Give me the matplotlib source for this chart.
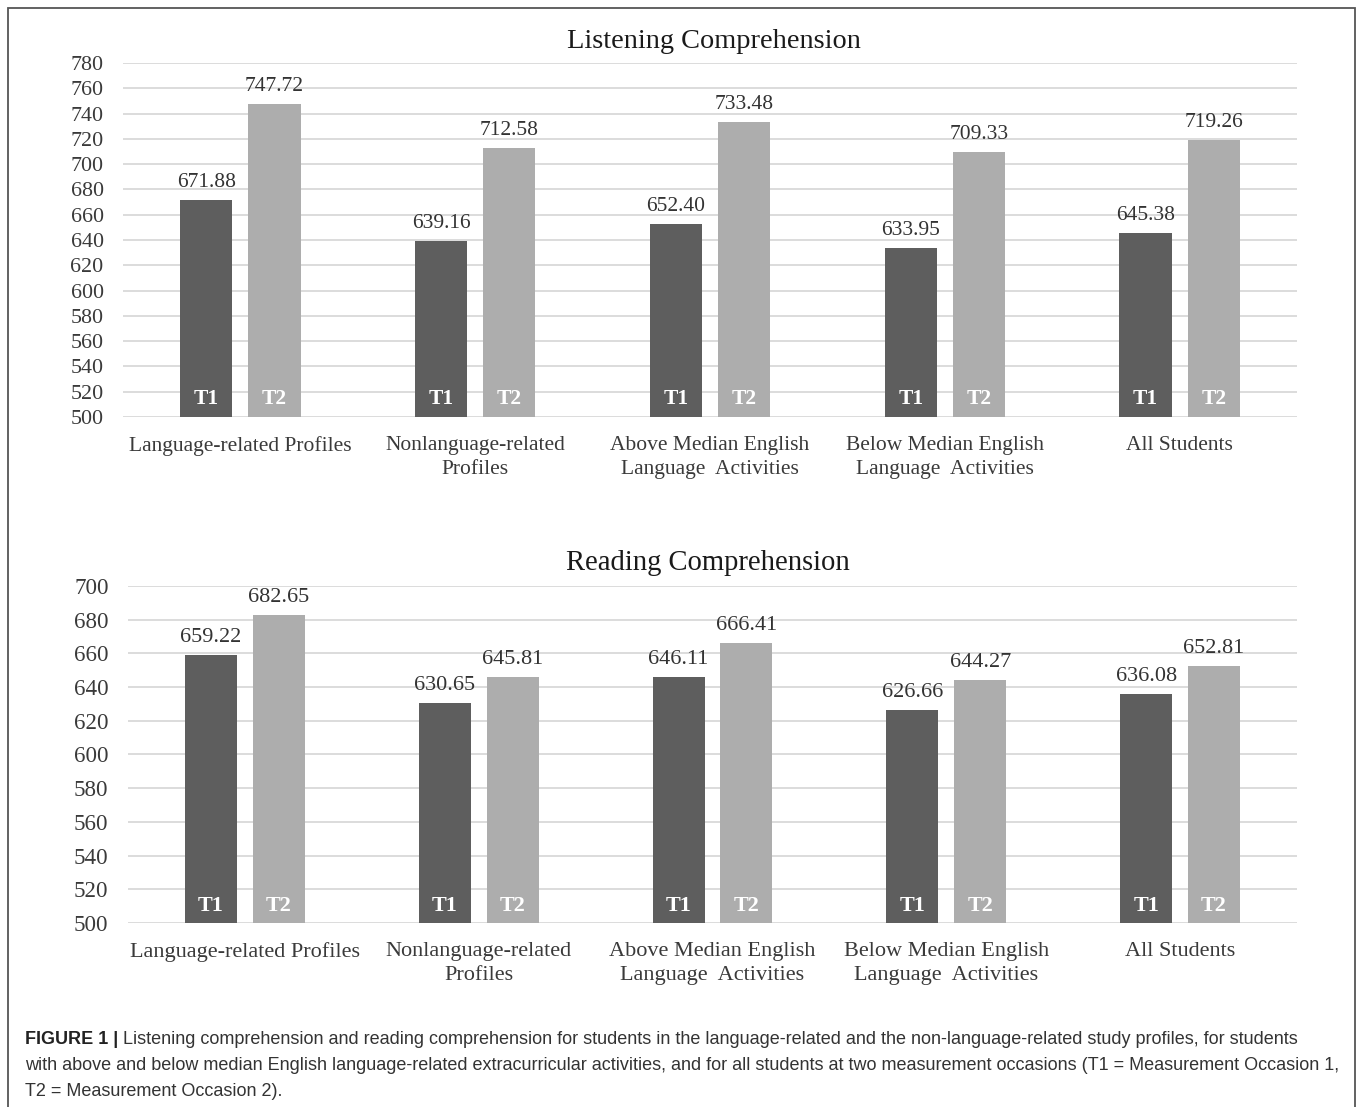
import matplotlib
matplotlib.use("Agg")
import matplotlib.pyplot as plt
import numpy as np
from matplotlib.patches import Rectangle

# ---- data ----
categories = [
    "Language-related Profiles",
    "Nonlanguage-related\nProfiles",
    "Above Median English\nLanguage  Activities",
    "Below Median English\nLanguage  Activities",
    "All Students",
]
listening_t1 = [671.88, 639.16, 652.40, 633.95, 645.38]
listening_t2 = [747.72, 712.58, 733.48, 709.33, 719.26]
reading_t1 = [659.22, 630.65, 646.11, 626.66, 636.08]
reading_t2 = [682.65, 645.81, 666.41, 644.27, 652.81]
series_names = ["T1", "T2"]

listening_ticks = list(range(500, 781, 20))
reading_ticks = list(range(500, 701, 20))

caption_lines = [
    "Listening comprehension and reading comprehension for students in the language-related and the non-language-related study profiles, for students",
    "with above and below median English language-related extracurricular activities, and for all students at two measurement occasions (T1 = Measurement Occasion 1,",
    "T2 = Measurement Occasion 2).",
]

# ---- style ----
SERIF = ["Liberation Serif", "DejaVu Serif"]
SANS = ["Liberation Sans", "DejaVu Sans"]
C_T1 = "#5e5e5e"
C_T2 = "#adadad"
GRID = "#d9d9d9"
TXT = "#3a3a3a"

W, H = 1357, 1107
fig = plt.figure(figsize=(W / 100, H / 100), dpi=100)
fig.patch.set_facecolor("white")


def px_axes(left, right, top, bottom):
    return fig.add_axes([left / W, 1 - bottom / H, (right - left) / W, (bottom - top) / H])


def draw_panel(ax, t1, t2, ticks, title, fs, tick_fs, title_fs, title_xy, lab_offset_pt):
    x = np.arange(len(categories))
    width = 0.222
    off = 0.145
    b1 = ax.bar(x - off, t1, width, color=C_T1, zorder=3)
    b2 = ax.bar(x + off, t2, width, color=C_T2, zorder=3)
    ax.set_ylim(ticks[0], ticks[-1])
    ax.set_xlim(-0.5, len(categories) - 0.5)
    ax.set_yticks(ticks)
    ax.yaxis.grid(True, color=GRID, linewidth=1.3, zorder=0)
    ax.set_axisbelow(True)
    for s in ax.spines.values():
        s.set_visible(False)
    ax.tick_params(axis="both", length=0)
    ax.tick_params(axis="y", pad=14)
    ax.set_yticklabels([str(t) for t in ticks], fontfamily=SERIF, color=TXT,
                       fontsize=tick_fs)
    ax.set_xticks(x)
    ax.set_xticklabels(categories, fontfamily=SERIF, fontsize=fs, color=TXT,
                       linespacing=1.35)
    ax.tick_params(axis="x", pad=14)

    # value labels above bars
    for bars, vals in ((b1, t1), (b2, t2)):
        for rect, v in zip(bars, vals):
            ax.annotate(f"{v:.2f}", (rect.get_x() + rect.get_width() / 2, v),
                        xytext=(0, 12.5), textcoords="offset points",
                        ha="center", va="center", fontfamily=SERIF,
                        fontsize=fs, color="#333333", zorder=4)
    # series names inside bars near the baseline
    for bars, name in ((b1, series_names[0]), (b2, series_names[1])):
        for rect in bars:
            ax.annotate(name, (rect.get_x() + rect.get_width() / 2, ticks[0]),
                        xytext=(0, lab_offset_pt), textcoords="offset points",
                        ha="center", va="center", fontfamily=SERIF,
                        fontsize=fs, fontweight="bold", color="white", zorder=5)
    fig.text(title_xy[0] / W, 1 - title_xy[1] / H, title, ha="center", va="center",
             fontfamily=SERIF, fontsize=title_fs, color="#1a1a1a")


ax1 = px_axes(123, 1297, 63, 417)
draw_panel(ax1, listening_t1, listening_t2, listening_ticks,
           "Listening Comprehension", 15.5, 15.8, 20.4, (713.5, 42), 13)

ax2 = px_axes(128, 1297, 586, 923)
draw_panel(ax2, reading_t1, reading_t2, reading_ticks,
           "Reading Comprehension", 16, 16.6, 20.6, (707.5, 563), 12.5)

# figure frame
fig.add_artist(Rectangle((8 / W, -0.05), (1355 - 8) / W, 1.05 - 8 / H,
                         transform=fig.transFigure, fill=False,
                         edgecolor="#555555", linewidth=1.3))

# caption
CAP_FS = 13.0
cap_y = [1040, 1066, 1091]
t = fig.text(25 / W, 1 - cap_y[0] / H, "FIGURE 1 | ", ha="left", va="center",
             fontfamily=SANS, fontsize=CAP_FS, fontweight="bold", color="#222222")
fig.canvas.draw()
bb = t.get_window_extent()
fig.text(bb.x1 / W, 1 - cap_y[0] / H, caption_lines[0], ha="left", va="center",
         fontfamily=SANS, fontsize=CAP_FS, color="#333333")
for line, y in zip(caption_lines[1:], cap_y[1:]):
    fig.text(25 / W, 1 - y / H, line, ha="left", va="center",
             fontfamily=SANS, fontsize=CAP_FS, color="#333333")

fig.savefig("out.png", dpi=100, facecolor="white")
